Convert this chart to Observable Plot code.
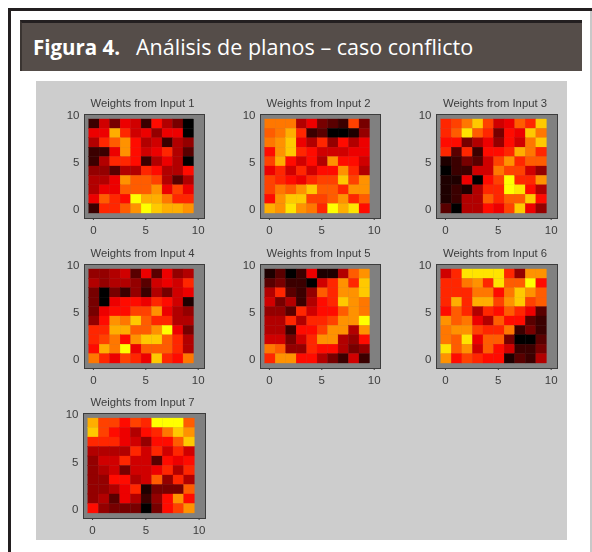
<!DOCTYPE html>
<html lang="es">
<head>
<meta charset="utf-8">
<script src="https://cdn.jsdelivr.net/npm/d3@7"></script>
<script src="https://cdn.jsdelivr.net/npm/@observablehq/plot@0.6"></script>
<style>
html,body{margin:0;padding:0;background:#fff;}
#page{position:relative;width:592px;height:552px;overflow:hidden;background:#fff;}
#edgeTop{position:absolute;left:8px;top:8px;width:584px;height:3px;background:#231f20;}
#edgeLeft{position:absolute;left:8px;top:8px;width:3px;height:544px;background:#231f20;}
#edgeRight{position:absolute;left:590px;top:11px;width:2px;height:541px;background:#c8c8c8;}
#bar{position:absolute;left:20px;top:20px;width:562px;height:51px;box-sizing:border-box;background:#554d49;border-top:3px solid #231f20;border-left:2px solid #3a3431;
  color:#fff;font-family:"Open Sans",sans-serif;line-height:48px;white-space:pre;}
#bar span.a{position:absolute;left:11px;top:0;font-size:20.5px;font-weight:700;}
#bar span.b{position:absolute;left:114px;top:0;font-size:21.5px;}
#panel{position:absolute;left:36px;top:81px;width:531px;height:459px;background:#cdcdcd;}
.chart{position:absolute;filter:blur(.6px);}
.chart svg{display:block;background:transparent !important;}
</style>
</head>
<body>
<div id="page">
  <div id="edgeTop"></div><div id="edgeLeft"></div><div id="edgeRight"></div>
  <div id="bar"><span class="a">Figura 4.</span><span class="b">Análisis de planos – caso conflicto</span></div>
  <div id="panel"></div>
</div>
<script>
// Rows run from the top of each map (y = 9) down to y = 0; values 0 (black) .. 9 (yellow).
const weights1 = [
  [1,3.5,2,4,3.5,1,4.5,3,2,0],
  [4,4,7.5,5,3.5,4,2.5,4,4,0],
  [3,5,6,7,4.5,3,3.5,1,3,2.5],
  [1,1,4,7,4.5,3.5,4,5,3,1.5],
  [1,3,5,5,4.5,1,3,4,3,0],
  [2.5,2.5,1.5,3,3,5,4.5,3,3,4.5],
  [3,3,4,7,6,6,5.5,3,1.5,3],
  [3,4,4,6,6,6,7,4,5.5,4],
  [4,6,5,4.5,9,7.5,7.5,6.5,5,5],
  [1,5,5,6,7,9,8,7.5,7.5,7]
];
const weights2 = [
  [6.5,6.5,6.5,3,4,2,1.5,1,5.5,2],
  [6,6.5,7.5,5,1,1.5,0,0,0.5,2.5],
  [6.5,7,8,4,3,5,2.5,4.5,3,4],
  [4.5,7,8,5,4.5,3.5,3.5,3.5,4,4],
  [5.5,7.5,4.5,3.5,4.5,3,7,4.5,4.5,3.5],
  [4,5,3.5,5,3.5,4.5,4.5,7,5,3],
  [5.5,5,4.5,4,5,5.5,5.5,8,5.5,7],
  [5.5,6.5,6,7,8,6,6,5,7,7],
  [4.5,7,8,8,5.5,5.5,6,7,5,6],
  [7.5,7,8.5,7,6.5,5,9,7.5,8.5,4.5]
];
const weights3 = [
  [5,5.5,6.5,8,5.5,3.5,4,6,5,8],
  [5,6,8.5,6,5,2,4.5,4,8,6.5],
  [4.5,4.5,2,3,4,2.5,4.5,3.5,6.5,8],
  [5,1.5,5,1,4.5,4.5,5,7.5,6.5,5],
  [0.5,1,2,1.5,3.5,5.5,7,5,6,6],
  [0,1,1,3.5,3.5,6.5,5.5,5.5,3.5,2.5],
  [0.5,0.5,4,0,4.5,5.5,9,5,5,7],
  [0.5,1,0.5,3,5,5,9,8.5,4.5,3],
  [0.5,1,3,3,6,5,6,6,8,4.5],
  [1.5,0,3,3,4.5,4,5.5,8,4,2.5]
];
const weights4 = [
  [2.5,2.5,3,3.5,1.5,4,1.5,4,2.5,3],
  [3,2.5,3,3,2.5,1.5,3.5,4,3.5,5],
  [2,0,2,1,2.5,1,3,2,3.5,4],
  [2,0,4,4.5,4.5,4,5,4.5,3.5,0.5],
  [2,4,4.5,4.5,5.5,5.5,7,4,3,2.5],
  [2.5,4.5,7,6.5,8,6,5,5,3,3],
  [5,5,7.5,7.5,6,6,7,9,4,2],
  [5,5.5,6.5,4.5,7,8,8,6,5,3],
  [4.5,7.5,6.5,9,4,6,6,6,5,3],
  [6.5,5,4,5.5,5,4,8,5,4.5,6.5]
];
const weights5 = [
  [0.5,1.5,0,1,4,0.5,0.5,3,6,7],
  [1.5,2,1,1,0,3.5,5,7,5,8],
  [3,5,1.5,1,2.5,6,5,7,7,8],
  [3.5,2,3,1,3,4.5,5,8,7,6.5],
  [2.5,2.5,1.5,5,3.5,4.5,4.5,6,7,6.5],
  [3,3,5,3,5,5,5.5,7,7,9],
  [3,3,1,4.5,4.5,5.5,7,7,3,7],
  [3.5,3.5,2,3.5,5,7,7,3,2.5,4.5],
  [6.5,6,2.5,2.5,5,4.5,4.5,3,2,2.5],
  [5,7,7,4.5,4.5,3,2,1,3.5,1]
];
const weights6 = [
  [3.5,5,8.5,8.5,8.5,8.5,5,2.5,7,7],
  [5,5,6.5,7,5,8.5,6,6,9,4.5],
  [5,5,5,6.5,6.5,4.5,6.5,8,7,6],
  [5,7.5,5,7.5,7.5,5.5,7,8,5.5,6],
  [4.5,6,5,3,5,4.5,6,5,4,1.5],
  [7,6,6.5,4,3,6,4.5,4.5,1.5,1],
  [6.5,7,7,5.5,5,5,6.5,1,2,1],
  [6.5,6,8.5,4,6,6,2,0,0,1.5],
  [8.5,6,7,3.5,6,4.5,3.5,1,1,2],
  [7,4.5,5.5,5,4.5,4.5,0.5,1.5,1,3]
];
const weights7 = [
  [7.5,5.5,5.5,4.5,5.5,5,9,9,9,6],
  [8,5.5,4.5,4,3,4.5,5,6.5,8,7],
  [5,5,5,4,3.5,2.5,4.5,4.5,6,8],
  [3,3,3,3,5,3.5,5,3.5,5,3.5],
  [2.5,3.5,3.5,5,3.5,3.5,1.5,4.5,4,4.5],
  [2.5,3,3.5,2,3.5,3.5,4,5,3,5],
  [2.5,2.5,4.5,4.5,3,3.5,6,2.5,5,3],
  [2.5,2.5,3,4,5,0.5,2,2,2,6],
  [2.5,3,1.5,4,3,1,2.5,4.5,7,4.5],
  [4.5,2.5,2,2,2,0,2,4.5,5.5,7]
];
const titles = ["Weights from Input 1","Weights from Input 2","Weights from Input 3","Weights from Input 4","Weights from Input 5","Weights from Input 6","Weights from Input 7"];
const maps = [weights1,weights2,weights3,weights4,weights5,weights6,weights7];
const tickValues = [0,5,10];
const colorStops = ["#000000","#ff0000","#ffff00"];
const colorDomain = [0,4.3,9];
// Plot frame placement on the page
const frameLeft = [84,260,436,84,260,436,83];
const frameTop = [114,114,114,264,264,264,413];
const frameWidth = [120,120,121,120,120,121,122];
const frameHeight = [104,104,104,104,104,104,105];

const marginLeft = 30, marginRight = 14, marginTop = 24, marginBottom = 20;
const page = document.getElementById("page");

maps.forEach((rows, k) => {
  const cells = rows.flatMap((row, r) => row.map((v, c) => ({col: c, row: 9 - r, v})));
  const chart = Plot.plot({
    width: frameWidth[k] + marginLeft + marginRight,
    height: frameHeight[k] + marginTop + marginBottom,
    marginLeft, marginRight, marginTop, marginBottom,
    style: {background: "transparent", fontFamily: "'Liberation Sans', Arial, sans-serif", fontSize: "11.5px", color: "#3c3c3c"},
    x: {domain: [-0.85, 10.6], label: null},
    y: {domain: [-0.96, 10.1], label: null},
    color: {type: "linear", domain: colorDomain, range: colorStops},
    marks: [
      Plot.frame({fill: "#808080"}),
      Plot.rect(cells, {
        x1: d => d.col - 0.4, x2: d => d.col + 0.6,
        y1: d => d.row - 0.43, y2: d => d.row + 0.57,
        fill: "v", stroke: "v", strokeWidth: 0.3
      }),
      Plot.frame({stroke: "#3c3c3c", strokeWidth: 1}),
      Plot.axisX(tickValues, {tickSize: 2, tickPadding: 5, stroke: "#3c3c3c", label: null, fill: "#3c3c3c", fontSize: 11.5}),
      Plot.axisY(tickValues, {tickSize: 0, tickPadding: 5, label: null, fill: "#3c3c3c", fontSize: 11.5}),
      Plot.text([titles[k]], {frameAnchor: "top", lineAnchor: "middle", dy: -11, dx: -2, fill: "#3c3c3c", fontSize: 11.3})
    ]
  });
  const holder = document.createElement("div");
  holder.className = "chart";
  holder.style.left = (frameLeft[k] - marginLeft) + "px";
  holder.style.top = (frameTop[k] - marginTop) + "px";
  holder.appendChild(chart);
  page.appendChild(holder);
});
</script>
</body>
</html>
